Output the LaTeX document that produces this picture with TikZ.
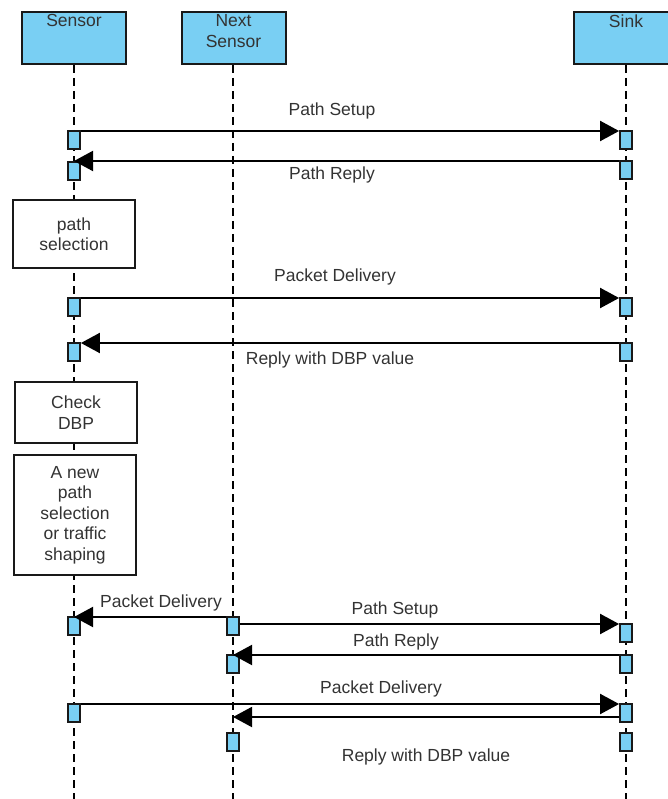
\documentclass[tikz,border=0pt]{standalone}
\usepackage{fontspec}
\setmainfont{Liberation Sans}
\usetikzlibrary{arrows.meta,positioning}
\definecolor{lifeblue}{HTML}{79CFF3}

\begin{document}
\begin{tikzpicture}[
            x=1pt, y=-1pt,
            every node/.style={font=\fontsize{17.5}{20.5}\selectfont, text=black!80},
            head/.style={draw=black!90, fill=lifeblue, line width=2pt, minimum width=104pt, minimum height=52pt, inner sep=0pt},
            act/.style={draw=black!90, fill=lifeblue, line width=1.8pt, minimum width=12pt, minimum height=18pt, inner sep=0pt, anchor=north},
            note/.style={draw=black!90, fill=white, line width=2pt, align=center, minimum width=122pt, inner sep=0pt},
            life/.style={line width=2pt, dash pattern=on 8pt off 5pt},
            msg/.style={line width=2pt, -{Triangle[length=19pt,width=20pt]}},
            lbl/.style={inner sep=0pt, anchor=base}
        ]
            \useasboundingbox (0,0) rectangle (668,799);
            \clip (0,0) rectangle (668,799);

            % lifelines
            \node[head] (sensor) at (74,38) {};
            \node[head] (next) at (233.5,38) {};
            \node[head] (sink) at (626,38) {};
            \coordinate (sensorend) at (74,800);
            \coordinate (nextend) at (233,800);
            \coordinate (sinkend) at (626,800);
            \draw[life] (sensor.south) -- (sensorend);
            \draw[life] (next.south -| nextend) -- (nextend);
            \draw[life] (sink.south) -- (sinkend);

            \node[anchor=north, inner sep=0pt] (sensorname) at ([yshift=-3.5pt]sensor.north) {Sensor};
            \node[anchor=north, inner sep=0pt, align=center] (nextname) at ([yshift=-3.5pt]next.north) {Next\\Sensor};
            \node[anchor=north, inner sep=0pt] (sinkname) at ([yshift=-3.5pt]sink.north) {Sink};

            % local steps
            \node[note, minimum height=68pt] (pathsel) at (74,234) {path\\selection};
            \node[note, minimum height=61pt] (checkdbp) at (76,412.5) {Check\\DBP};
            \node[note, minimum height=120pt] (newpath) at (75,515) {A new\\path\\selection\\or traffic\\shaping};

            % activations
            \node[act] (s1) at (74,130) {};
            \node[act] (k1) at (626,130) {};
            \node[act] (k2) at (626,160) {};
            \node[act] (s2) at (74,161) {};
            \node[act] (s3) at (74,297) {};
            \node[act] (k3) at (626,297) {};
            \node[act] (k4) at (626,342) {};
            \node[act] (s4) at (74,342) {};
            \node[act] (n1) at (233,616) {};
            \node[act] (s5) at (74,616) {};
            \node[act] (k5) at (626,623) {};
            \node[act] (k6) at (626,654) {};
            \node[act] (n2) at (233,654) {};
            \node[act] (s6) at (74,703) {};
            \node[act] (k7) at (626,703) {};
            \node[act] (n3) at (233,732) {};
            \node[act] (k8) at (626,732) {};
            \coordinate (nx) at (233,717);

            % messages
            \draw[msg] ([yshift=-1pt]s1.north east) -- ([yshift=-1pt]k1.north west);
            \draw[msg] ([yshift=-1pt]k2.north west) -- (s2.north);
            \draw[msg] ([yshift=-1pt]s3.north east) -- ([yshift=-1pt]k3.north west);
            \draw[msg] ([yshift=-1pt]k4.north west) -- ([yshift=-1pt]s4.north east);
            \draw[msg] ([yshift=-1pt]n1.north west) -- ([yshift=-1pt]s5.north);
            \draw[msg] ([yshift=-8pt]n1.north east) -- ([yshift=-1pt]k5.north west);
            \draw[msg] ([yshift=-1pt]k6.north west) -- ([yshift=-1pt]n2.north);
            \draw[msg] ([yshift=-1pt]s6.north east) -- ([yshift=-1pt]k7.north west);
            \draw[msg] ([yshift=-14pt]k7.north west) -- (nx);

            \node[lbl] (setup1) at (332,116) {Path Setup};
            \node[lbl] (reply1) at (332,180) {Path Reply};
            \node[lbl] (deliv1) at (335,281) {Packet Delivery};
            \node[lbl] (dbp1) at (330,364) {Reply with DBP value};
            \node[lbl] (deliv2) at (161,607) {Packet Delivery};
            \node[lbl] (setup2) at (395,614) {Path Setup};
            \node[lbl] (reply2) at (396,646) {Path Reply};
            \node[lbl] (deliv3) at (381,693) {Packet Delivery};
            \node[lbl] (dbp2) at (426,761) {Reply with DBP value};

        \end{tikzpicture}
\end{document}
